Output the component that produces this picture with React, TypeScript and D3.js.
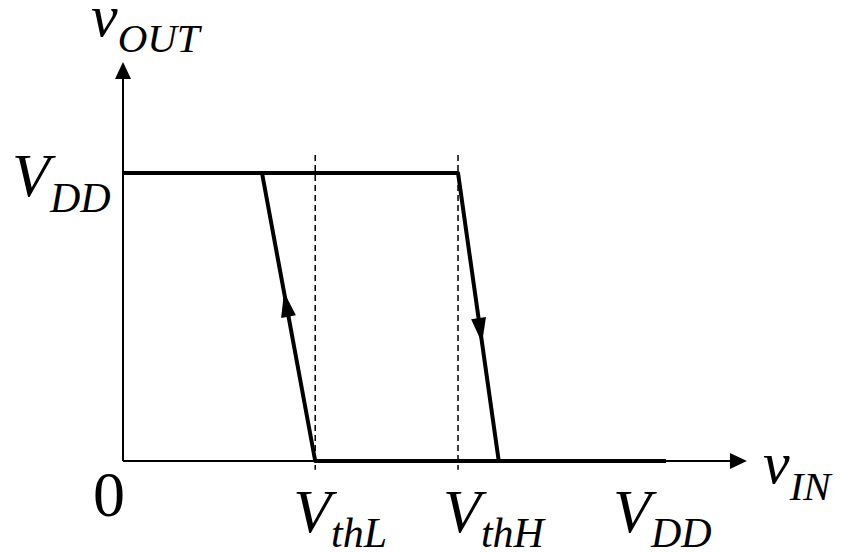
import React from 'react'
import {scaleLinear, line} from 'd3'

// input positions, in units of VDD
const VTHL = 0.354
const VTHH = 0.617
const VDD = 1

// the transfer curve: high branch, falling edge, low branch
const highX = [0, VTHH]
const fallX = [VTHH, 0.692]
const lowX = [VTHL, VDD]
// rising edge, from the bottom back up to VDD
const riseX = [VTHL, 0.256]
const levels = [0, 1]

// x tick labels: main letter + subscript
const xTickValues = [VTHL, VTHH, VDD]
const xTickMain = ['V', 'V', 'V']
const xTickSub = ['thL', 'thH', 'DD']

const W = 855
const H = 552
const FONT = '"Liberation Serif", "Times New Roman", serif'

export default function App() {
  const x = scaleLinear().domain([0, 1]).range([123, 666])
  const y = scaleLinear().domain([0, 1]).range([461, 173])

  const path = line<[number, number]>()
    .x(d => x(d[0]))
    .y(d => y(d[1]))

  // filled arrow head on a segment, tip at fraction t along it
  const arrowHead = (x0: number, y0: number, x1: number, y1: number, t: number) => {
    const ang = Math.atan2(y1 - y0, x1 - x0)
    const tx = x0 + (x1 - x0) * t
    const ty = y0 + (y1 - y0) * t
    const len = 25
    const half = 7.5
    const bx = tx - Math.cos(ang) * len
    const by = ty - Math.sin(ang) * len
    const px = -Math.sin(ang) * half
    const py = Math.cos(ang) * half
    return `M${tx},${ty}L${bx + px},${by + py}L${bx - px},${by - py}Z`
  }

  const xAxisEnd = x(1.149)
  const yAxisTop = y(1.385)

  const dashTop = y(1.0625)
  const dashBottom = y(-0.03)

  // label offsets relative to their tick
  const labelDx = [-22, -15, -53]

  return (
    <svg width={W} height={H} style={{position: 'absolute', left: 0, top: 0}} fontFamily={FONT}>
      <rect width={W} height={H} fill="#fff" />

      {/* axes */}
      <line x1={x(0)} y1={y(0)} x2={xAxisEnd - 14} y2={y(0)} stroke="#000" strokeWidth={2} />
      <path d={`M${xAxisEnd},${y(0)}L${xAxisEnd - 17},${y(0) - 8}L${xAxisEnd - 17},${y(0) + 8}Z`} fill="#000" />
      <line x1={x(0)} y1={y(0)} x2={x(0)} y2={yAxisTop + 14} stroke="#000" strokeWidth={2} />
      <path d={`M${x(0)},${yAxisTop}L${x(0) - 8},${yAxisTop + 17}L${x(0) + 8},${yAxisTop + 17}Z`} fill="#000" />

      {/* threshold guides */}
      {[VTHL, VTHH].map((v, i) => (
        <line key={i} x1={x(v)} x2={x(v)} y1={dashTop} y2={dashBottom}
          stroke="#000" strokeWidth={1.5} strokeDasharray="6,4" />
      ))}

      {/* hysteresis loop */}
      <path d={path([[highX[0], levels[1]], [highX[1], levels[1]]])} stroke="#000" strokeWidth={4} fill="none" />
      <path d={path([[fallX[0], levels[1]], [fallX[1], levels[0]]])} stroke="#000" strokeWidth={4} fill="none" strokeLinecap="round" />
      <path d={path([[lowX[0], levels[0]], [lowX[1], levels[0]]])} stroke="#000" strokeWidth={4} fill="none" />
      <path d={path([[riseX[0], levels[0]], [riseX[1], levels[1]]])} stroke="#000" strokeWidth={4} fill="none" strokeLinecap="round" />

      <path d={arrowHead(x(fallX[0]), y(1), x(fallX[1]), y(0), 0.59)} fill="#000" />
      <path d={arrowHead(x(riseX[0]), y(0), x(riseX[1]), y(1), 0.587)} fill="#000" />

      {/* axis titles */}
      <text x={91} y={36} fontStyle="italic" fontSize={60}>
        v<tspan fontSize={41} dy={16}>OUT</tspan>
      </text>
      <text x={763} y={483} fontStyle="italic" fontSize={60}>
        v<tspan fontSize={41} dy={17}>IN</tspan>
      </text>

      {/* y tick labels */}
      <text x={12} y={196} fontStyle="italic" fontSize={62}>
        V<tspan fontSize={42} dy={16}>DD</tspan>
      </text>
      <text x={109} y={516} fontSize={64} textAnchor="middle">0</text>

      {/* x tick labels */}
      {xTickValues.map((v, i) => (
        <text key={i} x={x(v) + labelDx[i]} y={532} fontStyle="italic" fontSize={62}>
          {xTickMain[i]}<tspan fontSize={42} dy={15}>{xTickSub[i]}</tspan>
        </text>
      ))}
    </svg>
  )
}
